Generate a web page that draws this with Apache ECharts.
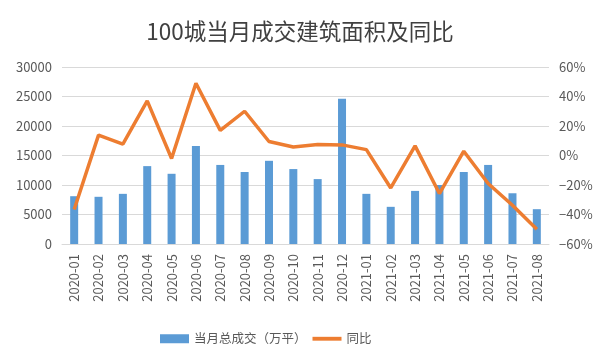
<!DOCTYPE html>
<html><head><meta charset="utf-8">
<script src="https://cdn.jsdelivr.net/npm/echarts@6/dist/echarts.min.js"></script>
<style>html,body{margin:0;padding:0;background:#fff}#c{width:600px;height:357px}</style>
</head><body><div id="c"></div>
<script>
const categories = ["2020-01","2020-02","2020-03","2020-04","2020-05","2020-06","2020-07","2020-08","2020-09","2020-10","2020-11","2020-12","2021-01","2021-02","2021-03","2021-04","2021-05","2021-06","2021-07","2021-08"];
const volume = [8100,8000,8500,13200,11900,16600,13400,12200,14100,12700,11000,24600,8500,6300,9000,10000,12200,13400,8600,5900];
const yoy = [-36.6,13.8,7.7,37,-2,49,17,30,9.5,5.8,7.5,7.2,4,-22,6.5,-25.8,2.9,-19,-33.7,-50];
const leftTicks = {min:0,max:30000,interval:5000};
const rightTicks = {min:-60,max:60,interval:20};

const chart = echarts.init(document.getElementById('c'));
const font = '"Noto Sans CJK SC", "Noto Sans", sans-serif';
chart.setOption({
  animation:false,
  textStyle:{fontFamily:font},
  title:{text:'100城当月成交建筑面积及同比',left:'center',top:15,
    textStyle:{fontSize:22.5,fontWeight:'normal',color:'#404040',fontFamily:font}},
  legend:{bottom:7,left:155,itemGap:6,itemWidth:29,itemHeight:9,
    textStyle:{fontSize:12.5,color:'#595959'},
    data:[{name:'当月总成交（万平）',icon:'rect'},{name:'同比',icon:'path://M0,0 L30,0 L30,4 L0,4 Z'}]},
  grid:{left:62,right:51,top:67,bottom:113},
  xAxis:{type:'category',data:categories,
    axisLine:{lineStyle:{color:'#D9D9D9'}},axisTick:{show:false},
    axisLabel:{rotate:90,color:'#595959',fontSize:13,interval:0,margin:10}},
  yAxis:[
    {type:'value',min:leftTicks.min,max:leftTicks.max,interval:leftTicks.interval,
     axisLabel:{color:'#595959',fontSize:13,margin:10,formatter:v=>String(v)},
     splitLine:{lineStyle:{color:'#D9D9D9'}},axisLine:{show:false},axisTick:{show:false}},
    {type:'value',min:rightTicks.min,max:rightTicks.max,interval:rightTicks.interval,
     axisLabel:{color:'#595959',fontSize:13,margin:10,formatter:v=>(v<0?'−'+(-v):v)+'%'},
     splitLine:{show:false},axisLine:{show:false},axisTick:{show:false}}
  ],
  series:[
    {name:'当月总成交（万平）',type:'bar',data:volume,barWidth:8,itemStyle:{color:'#5B9BD5'}},
    {name:'同比',type:'line',yAxisIndex:1,data:yoy,symbol:'none',
     lineStyle:{color:'#ED7D31',width:3.5},itemStyle:{color:'#ED7D31'}}
  ]
});
</script></body></html>
